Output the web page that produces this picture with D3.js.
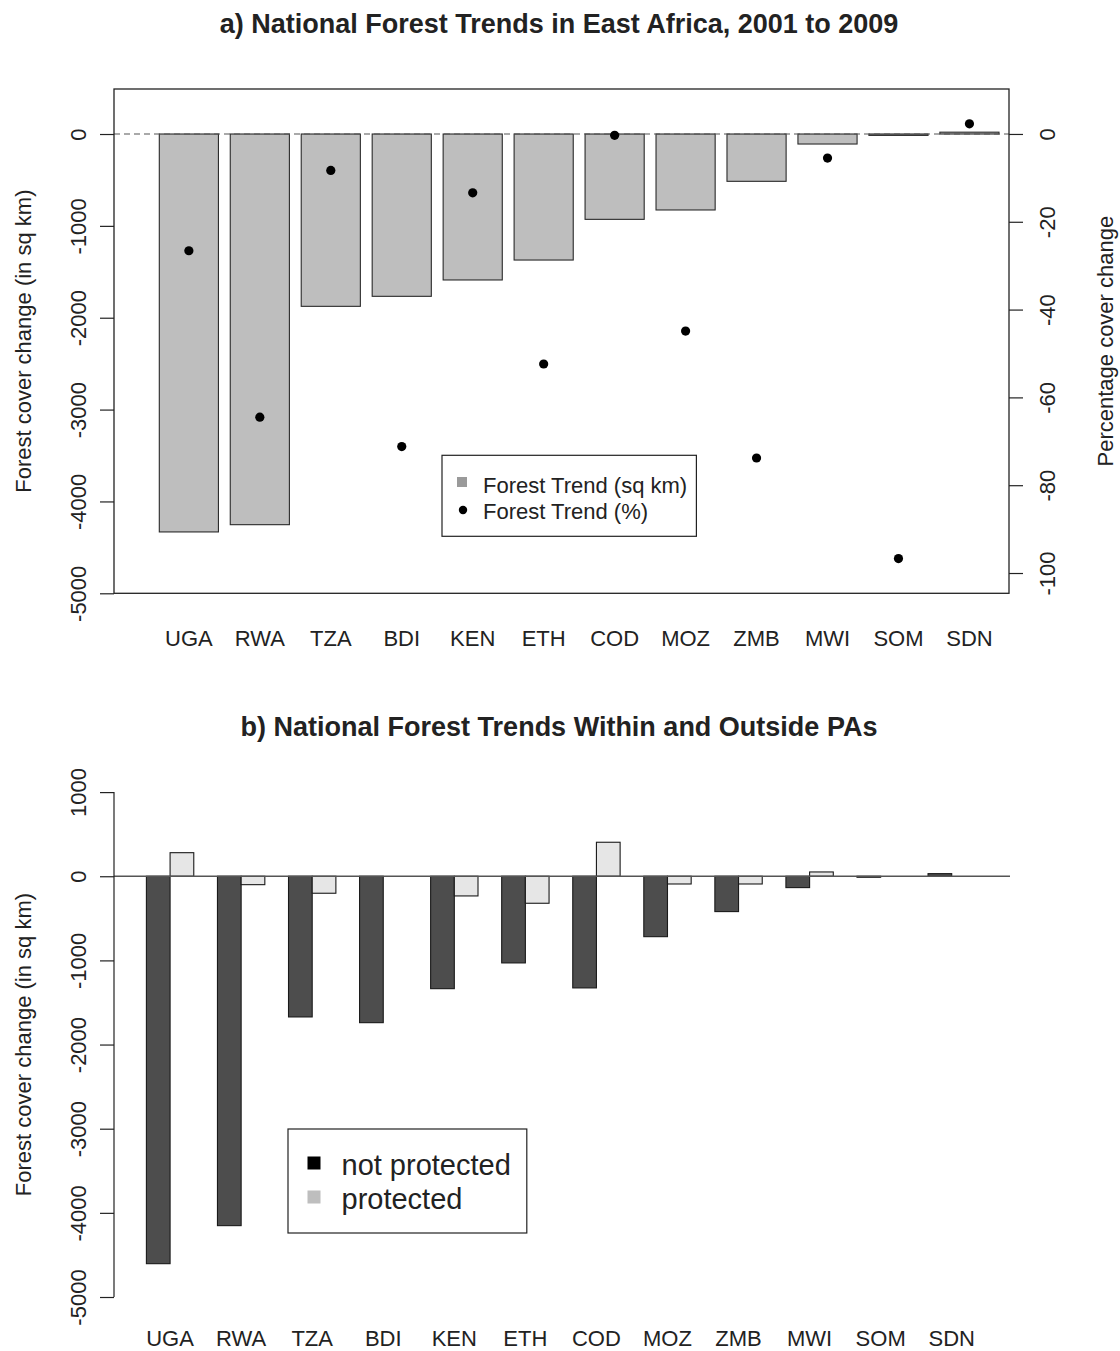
<!DOCTYPE html>
<html>
<head>
<meta charset="utf-8">
<script src="https://cdn.jsdelivr.net/npm/d3@7"></script>
<style>
  html, body { margin: 0; padding: 0; background: #fff; }
  svg text { font-family: "Liberation Sans", Arial, Helvetica, sans-serif; fill: #222; }
</style>
</head>
<body>
<svg id="chart" width="1120" height="1351"></svg>
<script>
// ---------------- data ----------------
const countries = ["UGA","RWA","TZA","BDI","KEN","ETH","COD","MOZ","ZMB","MWI","SOM","SDN"];
const trendSqKm = [-4332,-4253,-1876,-1767,-1589,-1372,-929,-827,-515,-109,-15,20];
const trendPct  = [-26.6,-64.5,-8.3,-71.2,-13.4,-52.4,-0.3,-44.9,-73.8,-5.5,-96.7,2.3];
const notProtected = [-4604,-4152,-1672,-1740,-1336,-1030,-1327,-718,-420,-135,-12,31];
const protectedPA  = [280,-100,-202,0,-234,-321,404,-92,-92,51,0,0];
const yTicksA   = [0,-1000,-2000,-3000,-4000,-5000];
const pctTicks  = [0,-20,-40,-60,-80,-100];
const yTicksB   = [1000,0,-1000,-2000,-3000,-4000,-5000];
const seriesB   = ["not protected","protected"];
const titleA = "a) National Forest Trends in East Africa, 2001 to 2009";
const titleB = "b) National Forest Trends Within and Outside PAs";
const yTitle = "Forest cover change (in sq km)";
const y2Title = "Percentage cover change";
const legendA = ["Forest Trend (sq km)","Forest Trend (%)"];

// ---------------- layout ----------------
const svg = d3.select("#chart");
const L = 114, R = 1009;
const FS = 22;
const fmt = d => String(d);  // plain hyphen-minus like the reference

// ===== Panel A =====
const aTop = 89, aBot = 593.3;
const xA = d3.scaleBand().domain(countries).range([159.3, 999]).paddingInner(0.2/1.2).paddingOuter(0);
const yA = d3.scaleLinear().domain([-5000, 490]).range([aBot, aTop]);
const yP = d3.scaleLinear().domain([-104.62, 10.24]).range([aBot, aTop]);

svg.append("text").attr("x", 559).attr("y", 33).attr("text-anchor","middle")
  .style("font-size","27px").style("font-weight","bold").text(titleA);

const gA = svg.append("g");
gA.selectAll("rect.bar").data(countries).join("rect")
  .attr("class","bar")
  .attr("x", d => xA(d))
  .attr("width", xA.bandwidth())
  .attr("y", (d,i) => yA(Math.max(0, trendSqKm[i])))
  .attr("height", (d,i) => Math.abs(yA(trendSqKm[i]) - yA(0)))
  .attr("fill", "#bebebe").attr("stroke", "#2a2a2a").attr("stroke-width", 1.1);

gA.append("line").attr("x1", L).attr("x2", R).attr("y1", yA(0)).attr("y2", yA(0))
  .attr("stroke", "#555").attr("stroke-width", 1.1).attr("stroke-dasharray", "6,4");

gA.selectAll("circle.pt").data(countries).join("circle")
  .attr("class","pt")
  .attr("cx", d => xA(d) + xA.bandwidth()/2)
  .attr("cy", (d,i) => yP(trendPct[i]))
  .attr("r", 4.6).attr("fill", "#000");

gA.append("rect").attr("x", L).attr("y", aTop).attr("width", R - L).attr("height", aBot - aTop)
  .attr("fill","none").attr("stroke","#222").attr("stroke-width",1.3);

// left axis
const axA = svg.append("g").attr("transform", `translate(${L},0)`)
  .call(d3.axisLeft(yA).tickValues(yTicksA).tickSize(14).tickFormat(fmt));
axA.select(".domain").remove();
axA.selectAll("line").attr("stroke","#222").attr("stroke-width",1.2);
axA.selectAll("text").attr("x",0).attr("dy",0).attr("text-anchor","middle")
  .attr("transform","translate(-28,0) rotate(-90)").style("font-size", FS+"px").attr("fill","#222");

// right axis
const axP = svg.append("g").attr("transform", `translate(${R},0)`)
  .call(d3.axisRight(yP).tickValues(pctTicks).tickSize(14).tickFormat(fmt));
axP.select(".domain").remove();
axP.selectAll("line").attr("stroke","#222").attr("stroke-width",1.2);
axP.selectAll("text").attr("x",0).attr("dy",0).attr("text-anchor","middle")
  .attr("transform","translate(46,0) rotate(-90)").style("font-size", FS+"px").attr("fill","#222");

svg.append("text").attr("transform", `translate(30.5,${(aTop+aBot)/2}) rotate(-90)`)
  .attr("text-anchor","middle").style("font-size", FS+"px").text(yTitle);
svg.append("text").attr("transform", `translate(1113,${(aTop+aBot)/2}) rotate(-90)`)
  .attr("text-anchor","middle").style("font-size", FS+"px").text(y2Title);

svg.append("g").selectAll("text").data(countries).join("text")
  .attr("x", d => xA(d) + xA.bandwidth()/2).attr("y", 645.5)
  .attr("text-anchor","middle").style("font-size", FS+"px").text(d => d);

// legend A
const lgA = svg.append("g");
lgA.append("rect").attr("x",442).attr("y",455.3).attr("width",254.4).attr("height",81)
  .attr("fill","#fff").attr("stroke","#222").attr("stroke-width",1.2);
lgA.append("rect").attr("x",457).attr("y",477).attr("width",10).attr("height",10).attr("fill","#9a9a9a");
lgA.append("circle").attr("cx",463).attr("cy",510).attr("r",4.2).attr("fill","#000");
lgA.selectAll("text").data(legendA).join("text")
  .attr("x",483).attr("y",(d,i) => 493 + i*25.5).style("font-size", FS+"px").text(d => d);

// ===== Panel B =====
const yB = d3.scaleLinear().domain([-5240, 1240]).range([1317.2, 771.9]);
const x0 = d3.scaleBand().domain(countries).range([146.4, 975.4]).paddingInner(1/3).paddingOuter(0);
const x1 = d3.scaleBand().domain(seriesB).range([0, x0.bandwidth()]);
const colB = d3.scaleOrdinal().domain(seriesB).range(["#4d4d4d","#e6e6e6"]);

svg.append("text").attr("x", 559).attr("y", 736).attr("text-anchor","middle")
  .style("font-size","27px").style("font-weight","bold").text(titleB);

const rowsB = countries.map((c,i) => ({c, vals: [
  {k: seriesB[0], v: notProtected[i]}, {k: seriesB[1], v: protectedPA[i]}]}));

const gB = svg.append("g");
gB.selectAll("g.grp").data(rowsB).join("g").attr("class","grp")
  .attr("transform", d => `translate(${x0(d.c)},0)`)
  .selectAll("rect").data(d => d.vals.filter(v => v.v !== 0)).join("rect")
  .attr("x", d => x1(d.k)).attr("width", x1.bandwidth())
  .attr("y", d => yB(Math.max(0, d.v)))
  .attr("height", d => Math.abs(yB(d.v) - yB(0)))
  .attr("fill", d => colB(d.k)).attr("stroke","#1a1a1a").attr("stroke-width",1.1);

gB.append("line").attr("x1", L).attr("x2", R+1).attr("y1", yB(0)).attr("y2", yB(0))
  .attr("stroke","#555").attr("stroke-width",1.3);

const axB = svg.append("g").attr("transform", `translate(${L},0)`)
  .call(d3.axisLeft(yB).tickValues(yTicksB).tickSize(14).tickFormat(fmt));
axB.select(".domain").remove();
axB.append("line").attr("x1",0).attr("x2",0)
  .attr("y1", yB(d3.max(yTicksB))).attr("y2", yB(d3.min(yTicksB)))
  .attr("stroke","#222").attr("stroke-width",1.2);
axB.selectAll("line").attr("stroke","#222").attr("stroke-width",1.2);
axB.selectAll("text").attr("x",0).attr("dy",0).attr("text-anchor","middle")
  .attr("transform","translate(-28,0) rotate(-90)").style("font-size", FS+"px").attr("fill","#222");

svg.append("text").attr("transform", `translate(30.5,${(771.9+1317.2)/2}) rotate(-90)`)
  .attr("text-anchor","middle").style("font-size", FS+"px").text(yTitle);

svg.append("g").selectAll("text").data(countries).join("text")
  .attr("x", d => x0(d) + x0.bandwidth()/2).attr("y", 1346)
  .attr("text-anchor","middle").style("font-size", FS+"px").text(d => d);

// legend B
const lgB = svg.append("g");
lgB.append("rect").attr("x",288).attr("y",1129).attr("width",238.8).attr("height",104)
  .attr("fill","#fff").attr("stroke","#222").attr("stroke-width",1.2);
const legColB = ["#000","#bebebe"];
lgB.selectAll("rect.sw").data(seriesB).join("rect").attr("class","sw")
  .attr("x",307.5).attr("y",(d,i) => 1156.5 + i*34).attr("width",13).attr("height",13)
  .attr("fill",(d,i) => legColB[i]);
lgB.selectAll("text").data(seriesB).join("text")
  .attr("x",341.5).attr("y",(d,i) => 1174.5 + i*34.5).style("font-size","29px").text(d => d);
</script>
</body>
</html>
